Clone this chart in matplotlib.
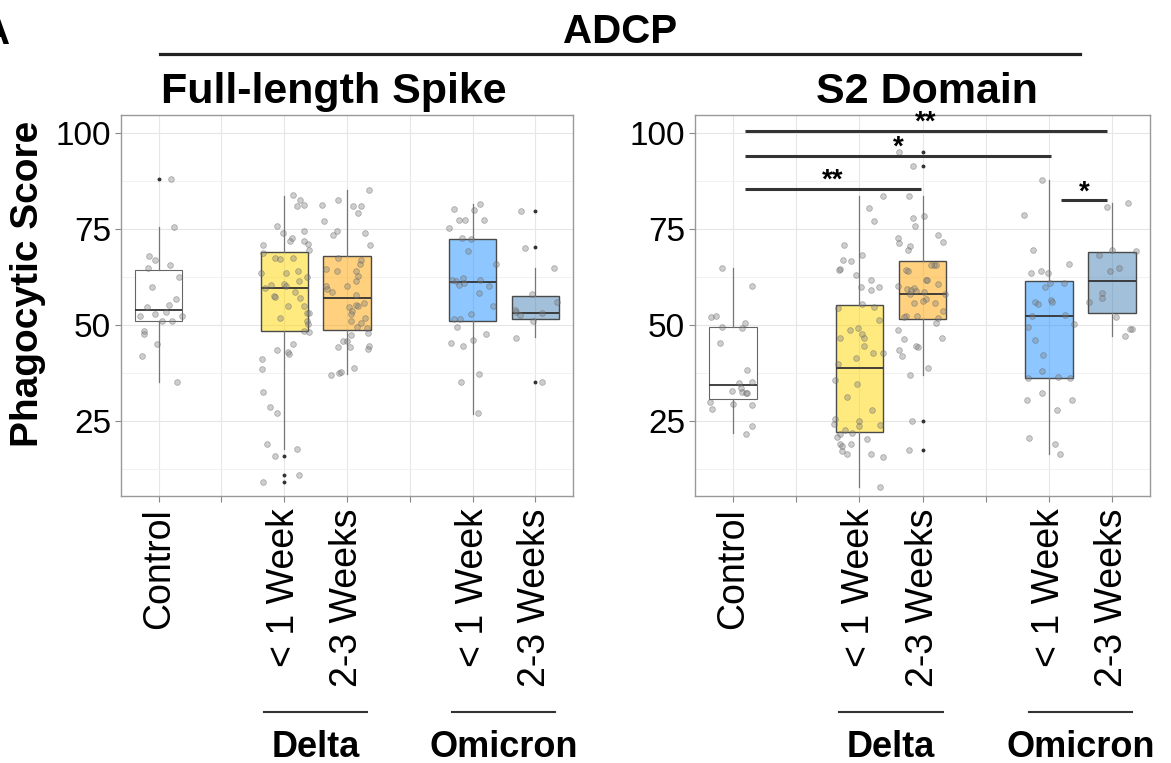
import matplotlib
matplotlib.use("Agg")
import matplotlib.pyplot as plt
import matplotlib.transforms as mtransforms

plt.rcParams['font.family'] = ['Liberation Sans', 'DejaVu Sans']

# categories (blank levels are the gaps between groups)
x_labels = ["Control", "", "< 1 Week", "2-3 Weeks", "", "< 1 Week", "2-3 Weeks"]
box_pos = [0, 2, 3, 5, 6]
box_colors = ["white", "gold", "orange", "dodgerblue", "steelblue"]
group_names = ["Delta", "Omicron"]
group_centers = [2.5, 5.5]

# ---- Full-length Spike ----
fl_ctrl = [88.0, 75.5, 68.0, 66.9, 64.8, 65.5, 62.4, 59.8, 56.8, 55.3, 54.6, 52.3, 52.9, 53.4,
           52.3, 50.9, 50.9, 48.4, 47.7, 44.9, 42.0, 35.2]
fl_ctrl_jit = [0.2, 0.25, -0.15, -0.06, -0.17, 0.18, 0.32, -0.11, 0.27, 0.17, -0.18, -0.3, -0.06, 0.11,
               0.38, 0.06, 0.21, -0.24, -0.24, -0.02, -0.27, 0.29]
fl_d1 = [83.7, 82.6, 80.8, 81.2, 75.6, 74.0, 74.5, 72.6, 71.9, 71.9, 71.1, 69.5, 70.7, 68.8, 67.4,
         67.1, 67.3, 63.4, 63.6, 64.1, 62.5, 60.3, 60.6, 60.2, 61.3, 59.6, 58.6, 57.6, 57.2, 57.0,
         55.0, 54.8, 53.1, 53.2, 51.9, 50.9, 50.3, 48.5, 48.2, 45.0, 43.4, 43.0, 42.3, 41.1, 38.5,
         32.6, 28.6, 27.0, 18.9, 17.7, 15.8, 11.0, 9.0]
fl_d1_jit = [0.14, 0.25, 0.21, 0.31, -0.11, -0.02, 0.31, 0.12, 0.09, 0.32, 0.38, 0.39, -0.34, -0.33, -0.14,
             -0.06, 0.14, -0.37, 0.03, 0.22, 0.36, -0.21, -0.01, 0.03, 0.23, -0.31, 0.17, -0.17, -0.14, 0.25,
             0.06, 0.32, 0.37, 0.39, -0.06, 0.36, 0.38, 0.31, 0.40, 0.14, -0.12, 0.06, 0.07, -0.35, -0.36,
             -0.34, -0.23, -0.12, -0.27, 0.2, -0.14, 0.23, -0.34]
fl_d2 = [85.2, 82.4, 81.3, 80.9, 80.9, 79.2, 77.1, 74.5, 73.5, 73.8, 70.9, 67.3, 66.9, 65.9, 64.6,
         64.1, 64.1, 62.8, 61.5, 60.0, 60.0, 59.3, 58.6, 57.8, 55.8, 54.7, 55.2, 54.8, 53.5, 52.8,
         51.9, 51.1, 50.5, 49.4, 49.1, 47.9, 47.3, 45.8, 45.7, 44.3, 44.2, 44.6, 43.8, 38.8, 37.0,
         37.6, 37.7]
fl_d2_jit = [0.35, -0.15, -0.39, 0.10, 0.23, 0.18, -0.37, -0.16, -0.23, 0.28, 0.36, -0.14, 0.23, 0.20, -0.33,
             -0.16, 0.15, 0.17, 0.14, -0.33, 0.0, -0.32, -0.24, 0.15, 0.27, 0.03, 0.14, 0.17, 0.08, 0.07,
             0.29, 0.07, 0.23, 0.16, 0.32, 0.33, 0.06, -0.07, 0.0, -0.15, 0.05, 0.35, 0.34, 0.11, -0.26,
             -0.12, -0.09]
fl_o1 = [81.5, 80.1, 79.9, 77.4, 77.2, 77.2, 75.1, 72.7, 72.4, 69.3, 65.8, 61.7, 61.5, 62.2, 60.9,
         60.5, 61.7, 60.2, 58.3, 54.8, 52.9, 51.6, 51.4, 49.5, 47.7, 46.0, 45.2, 44.6, 37.2, 35.2, 27.0]
fl_o1_jit = [0.12, -0.30, 0.02, -0.22, -0.12, 0.19, -0.37, -0.17, -0.03, -0.07, 0.38, -0.33, -0.27, -0.15, -0.14,
             -0.22, 0.12, 0.27, 0.11, 0.32, -0.03, -0.20, -0.30, -0.24, 0.22, 0.0, -0.35, -0.15, 0.10, -0.19, 0.08]
fl_o2 = [79.5, 70.1, 64.8, 58.1, 55.9, 53.9, 53.3, 52.7, 53.0, 51.1, 46.7, 35.2]
fl_o2_jit = [-0.23, -0.17, 0.29, -0.06, 0.35, -0.33, -0.31, -0.25, 0.10, -0.04, -0.30, 0.10]

fl_q1 = [50.9, 48.4, 48.6, 50.9, 51.5]
fl_med = [54.0, 59.5, 57.0, 61.1, 53.1]
fl_q3 = [64.2, 69.0, 68.0, 72.4, 57.5]
fl_lo = [35.1, 17.8, 37.2, 26.9, 46.8]
fl_hi = [75.4, 83.6, 85.2, 81.4, 64.8]
fl_out = [[88.0], [15.8, 11.0, 9.0], [], [], [79.5, 70.2, 35.2]]

# ---- S2 Domain ----
s2_ctrl = [64.8, 60.2, 52.1, 52.4, 50.6, 49.5, 49.2, 45.4, 38.2, 34.9, 35.2, 33.5, 32.7, 32.6,
           32.4, 32.4, 29.9, 29.5, 29.2, 28.0, 23.8, 21.6]
s2_ctrl_jit = [-0.17, 0.30, -0.35, -0.26, 0.19, -0.17, 0.15, -0.20, 0.22, 0.10, 0.30, 0.13, -0.02, 0.15,
               0.20, 0.23, -0.36, 0.0, 0.30, -0.33, 0.30, 0.21]
s2_d1 = [83.5, 80.4, 77.1, 70.8, 68.1, 66.9, 66.6, 64.5, 64.4, 63.0, 61.8, 59.9, 59.2, 59.9, 55.4,
         54.5, 54.7, 51.3, 48.6, 49.1, 47.6, 46.7, 46.7, 44.4, 42.7, 42.7, 41.3, 39.8, 35.6, 34.6,
         31.3, 27.9, 25.4, 24.2, 25.1, 23.8, 24.0, 22.7, 21.8, 21.6, 20.9, 20.2, 19.0, 18.9, 18.6,
         17.3, 16.4, 16.3, 15.7, 7.8]
s2_d1_jit = [0.38, 0.15, 0.24, -0.24, 0.04, -0.26, -0.13, -0.30, -0.32, -0.06, 0.19, 0.03, 0.18, 0.31, 0.04,
             -0.33, 0.24, 0.31, -0.14, -0.02, 0.05, -0.31, 0.07, 0.08, 0.22, 0.38, -0.05, -0.34, -0.39, -0.04,
             -0.20, 0.20, -0.39, -0.40, 0.0, -0.01, 0.33, -0.23, -0.11, -0.30, -0.35, 0.12, -0.30, -0.13, -0.27,
             -0.27, -0.20, 0.19, 0.38, 0.32]
s2_d2 = [95.0, 91.3, 83.4, 78.4, 77.8, 75.8, 73.4, 71.5, 72.6, 71.2, 70.5, 69.5, 65.7, 65.7, 65.6,
         64.4, 64.0, 61.8, 61.6, 60.6, 60.0, 59.3, 59.7, 59.0, 58.7, 58.6, 58.1, 58.0, 56.7, 56.1,
         55.7, 55.6, 53.5, 52.3, 52.2, 52.1, 51.9, 50.6, 48.7, 46.5, 46.4, 44.6, 44.3, 43.4, 42.0,
         38.8, 37.0, 24.9, 17.5]
s2_d2_jit = [-0.37, -0.15, -0.21, 0.03, -0.15, -0.12, 0.25, 0.33, -0.39, -0.37, -0.20, -0.23, 0.18, 0.21, 0.13,
             -0.26, -0.23, 0.05, 0.07, 0.24, -0.38, -0.24, -0.14, -0.18, -0.11, 0.03, -0.20, 0.35, 0.05, 0.0,
             0.20, -0.13, 0.32, -0.08, -0.26, -0.30, 0.24, 0.22, -0.39, 0.31, -0.29, -0.11, -0.07, -0.37, -0.32,
             0.08, -0.20, -0.16, -0.22]
s2_o1 = [87.8, 78.7, 69.6, 65.9, 63.5, 63.9, 63.5, 60.9, 61.0, 59.9, 56.0, 55.5, 56.5, 56.0, 52.2,
         52.6, 49.4, 50.1, 46.1, 42.1, 38.1, 36.2, 36.4, 36.2, 32.2, 30.4, 30.4, 27.9, 20.6, 18.9, 16.4]
s2_o1_jit = [-0.11, -0.39, -0.25, 0.32, -0.29, -0.13, -0.02, 0.01, 0.24, -0.06, -0.22, -0.18, 0.03, 0.05, -0.26,
             0.26, -0.33, 0.39, -0.22, -0.09, -0.11, -0.33, 0.14, 0.34, -0.11, -0.34, 0.37, 0.13, -0.31, 0.09, 0.18]
s2_o2 = [80.6, 81.8, 69.6, 69.3, 68.2, 64.7, 64.0, 58.3, 56.9, 56.0, 52.1, 48.8, 48.8, 47.1]
s2_o2_jit = [-0.08, 0.25, 0.0, 0.37, -0.20, 0.11, -0.04, -0.16, -0.16, -0.36, 0.06, 0.31, 0.28, 0.20]

s2_q1 = [30.7, 22.1, 51.5, 36.2, 53.0]
s2_med = [34.3, 38.8, 58.0, 52.4, 61.3]
s2_q3 = [49.4, 55.1, 66.6, 61.4, 68.9]
s2_lo = [21.9, 7.8, 37.0, 16.4, 47.1]
s2_hi = [64.8, 83.5, 83.4, 87.8, 81.8]
s2_out = [[], [], [95.0, 91.3, 24.9, 17.5], [], []]

# significance brackets (S2 panel)
sig_x0 = [0.19, 0.19, 0.19, 5.19]
sig_x1 = [2.98, 5.04, 5.92, 5.92]
sig_y = [85.4, 94.0, 100.5, 82.5]
sig_text = ["**", "*", "**", "*"]


def draw_panel(ax, groups, jits, q1, med, q3, lo, hi, out):
    stats = []
    for i in range(len(box_pos)):
        stats.append(dict(q1=q1[i], med=med[i], q3=q3[i], whislo=lo[i], whishi=hi[i], fliers=out[i]))
    bp = ax.bxp(stats, positions=box_pos, widths=0.75, patch_artist=True, showcaps=False,
                boxprops=dict(linewidth=1.0, edgecolor='#4a4a4a'),
                medianprops=dict(color='#333333', linewidth=1.3),
                whiskerprops=dict(color='#777777', linewidth=0.9),
                flierprops=dict(marker='o', markersize=1.8, markerfacecolor='#333333',
                                markeredgecolor='#333333', linestyle='none'),
                zorder=2)
    for patch, c in zip(bp['boxes'], box_colors):
        if c == "white":
            patch.set_facecolor('white')
            patch.set_edgecolor('#666666')
            patch.set_linewidth(0.8)
        else:
            patch.set_facecolor(matplotlib.colors.to_rgba(c, 0.5))
    for p, vals, jit in zip(box_pos, groups, jits):
        xs = [p + j for j in jit]
        ax.scatter(xs, vals, s=17, facecolor=(0.5, 0.5, 0.5, 0.38),
                   edgecolor=(0.35, 0.35, 0.35, 0.42), linewidth=0.6, zorder=3)

    ax.set_xlim(-0.6, 6.6)
    ax.set_ylim(5.5, 104.6)
    ax.set_xticks(range(len(x_labels)))
    ax.set_xticklabels(x_labels, rotation=90, fontsize=27, va='top')
    ax.set_yticks([25, 50, 75, 100])
    ax.set_yticks([12.5, 37.5, 62.5, 87.5], minor=True)
    ax.tick_params(axis='y', labelsize=24, length=4, color='#888888', pad=3)
    ax.tick_params(axis='x', length=4, color='#888888', pad=5)
    ax.tick_params(which='minor', length=0)
    ax.grid(True, which='major', color='#e6e6e6', linewidth=0.8, zorder=0)
    ax.grid(True, which='minor', axis='y', color='#f0f0f0', linewidth=0.6, zorder=0)
    ax.set_axisbelow(True)
    for s in ax.spines.values():
        s.set_color('#999999')
        s.set_linewidth(1.0)

    # group brackets under the tick labels
    trans = mtransforms.blended_transform_factory(ax.transData, fig.transFigure)
    for gname, gc in zip(group_names, group_centers):
        ax.plot([gc - 0.82, gc + 0.82], [0.067, 0.067], color='#333333', linewidth=1.5,
                transform=trans, clip_on=False)
        ax.text(gc, 0.008, gname, transform=trans, ha='center', va='baseline',
                fontsize=26, fontweight='bold')


fig = plt.figure(figsize=(11.71, 7.63), dpi=100)
ax1 = fig.add_axes([0.1033, 0.350, 0.386, 0.4993])
ax2 = fig.add_axes([0.5935, 0.350, 0.3886, 0.4993])

draw_panel(ax1, [fl_ctrl, fl_d1, fl_d2, fl_o1, fl_o2],
           [fl_ctrl_jit, fl_d1_jit, fl_d2_jit, fl_o1_jit, fl_o2_jit],
           fl_q1, fl_med, fl_q3, fl_lo, fl_hi, fl_out)
draw_panel(ax2, [s2_ctrl, s2_d1, s2_d2, s2_o1, s2_o2],
           [s2_ctrl_jit, s2_d1_jit, s2_d2_jit, s2_o1_jit, s2_o2_jit],
           s2_q1, s2_med, s2_q3, s2_lo, s2_hi, s2_out)

for x0, x1, y, t in zip(sig_x0, sig_x1, sig_y, sig_text):
    ax2.plot([x0, x1], [y, y], color='#333333', linewidth=2.2, solid_capstyle='butt',
             zorder=4, clip_on=False)
    ax2.text((x0 + x1) / 2, y + 0.2, t, ha='center', va='baseline', fontsize=20,
             fontweight='bold', zorder=4)

ax1.set_ylabel("Phagocytic Score", fontsize=28, fontweight='bold')
ax1.yaxis.set_label_coords(-0.165, 0.556)

fig.text(-0.016, 0.955, "A", fontsize=28, fontweight='bold', ha='left', va='center')
fig.text(0.5295, 0.943, "ADCP", fontsize=29, fontweight='bold', ha='center', va='baseline')
fig.add_artist(plt.Line2D([0.1366, 0.9223], [0.929, 0.929], color='#222222', linewidth=2.3,
                          transform=fig.transFigure))
fig.text(0.1375, 0.865, "Full-length Spike", fontsize=31, fontweight='bold', ha='left', va='baseline')
fig.text(0.7916, 0.865, "S2 Domain", fontsize=31, fontweight='bold', ha='center', va='baseline')

fig.savefig("out.png", dpi=100)
